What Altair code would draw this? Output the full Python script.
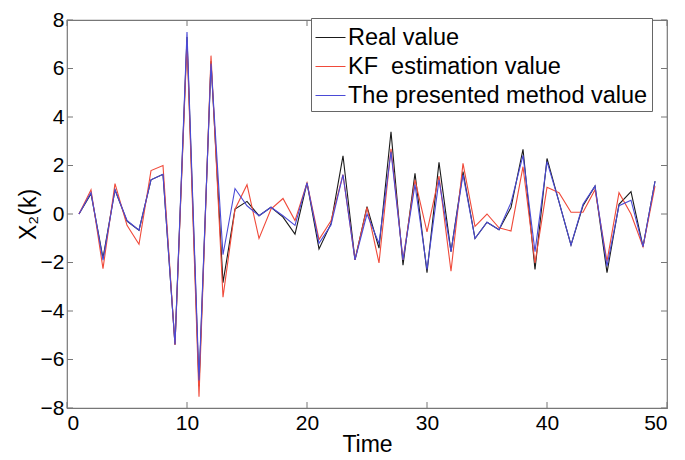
import altair as alt
import pandas as pd

time = list(range(1, 50))
real = [0, 0.84, -1.82, 1.0, -0.3, -0.67, 1.41, 1.64, -5.38, 7.3,
        -7.1, 6.3, -2.83, 0.2, 0.52, -0.07, 0.28, -0.13, -0.83, 1.28,
        -1.44, -0.4, 2.4, -1.89, 0.3, -1.41, 3.39, -2.11, 1.68, -2.42,
        2.13, -1.55, 1.75, -1.01, -0.34, -0.65, 0.27, 2.67, -2.29, 2.29,
        0.5, -1.28, 0.34, 1.15, -2.42, 0.4, 0.92, -1.35, 1.35]
kf = [0, 1.0, -2.25, 1.25, -0.47, -1.25, 1.79, 2.0, -5.4, 7.1,
      -7.54, 6.53, -3.43, 0.2, 1.21, -1.01, 0.2, 0.64, -0.27, 1.28,
      -1.05, -0.28, 1.62, -1.89, 0.27, -2.02, 2.69, -1.89, 1.41, -0.74,
      1.56, -2.36, 2.09, -0.51, 0.0, -0.57, -0.7, 1.95, -2.02, 1.1,
      0.88, 0.07, 0.07, 1.0, -1.95, 0.88, 0.0, -1.35, 1.15]
presented = [0, 0.88, -1.9, 1.0, -0.27, -0.67, 1.41, 1.64, -5.38, 7.5,
             -6.87, 6.2, -1.68, 1.05, 0.34, -0.07, 0.28, -0.07, -0.47, 1.28,
             -1.21, -0.45, 1.62, -1.89, 0.0, -1.21, 2.56, -1.89, 1.21, -2.29,
             1.41, -1.55, 1.62, -1.01, -0.34, -0.65, 0.47, 2.42, -1.55, 2.16,
             0.5, -1.28, 0.4, 1.15, -2.15, 0.34, 0.57, -1.35, 1.35]

series_names = ["Real value", "\u00a0KF\u00a0\u00a0estimation value", "The presented method value"]
series_colors = ["#1a1a1a", "#f04a3a", "#4a4ad6"]
x_ticks = [0, 10, 20, 30, 40, 50]
y_ticks = [-8, -6, -4, -2, 0, 2, 4, 6, 8]

W, H = 600, 388

rows = []
for name, vals, order in zip(series_names, [real, kf, presented], [0, 1, 2]):
    for t, v in zip(time, vals):
        rows.append({"Time": t, "value": v, "series": name, "order": order})
df = pd.DataFrame(rows)

xscale = alt.Scale(domain=[0, 50], nice=False, zero=False)
yscale = alt.Scale(domain=[-8, 8], nice=False, zero=False)

FONT = "Liberation Sans"

lines = alt.Chart(df).mark_line(strokeWidth=1.1).encode(
    x=alt.X("Time:Q", scale=xscale,
            axis=alt.Axis(values=x_ticks, title="Time", tickSize=0, domain=False,
                          grid=False, labelPadding=4, titlePadding=0,
                          labelFont=FONT, labelFontSize=21, labelColor="#000000",
                          titleFont=FONT, titleFontSize=23, titleColor="#000000",
                          titleFontWeight="normal")),
    y=alt.Y("value:Q", scale=yscale,
            axis=alt.Axis(values=y_ticks, title="X\u2082(k)", tickSize=0, domain=False,
                          grid=False, labelPadding=3, titlePadding=0,
                          labelFont=FONT, labelFontSize=21, labelColor="#000000",
                          titleFont=FONT, titleFontSize=23, titleColor="#000000",
                          titleFontWeight="normal")),
    color=alt.Color("series:N",
                    scale=alt.Scale(domain=series_names, range=series_colors),
                    sort=series_names,
                    legend=alt.Legend(title=None, orient="none", legendX=244, legendY=-2,
                                      symbolType="stroke", symbolSize=900,
                                      symbolStrokeWidth=1, labelFontSize=23.5,
                                      labelFont=FONT, labelColor="#000000",
                                      labelLimit=400, rowPadding=2, padding=4,
                                      strokeColor="#666666", fillColor="white",
                                      labelOffset=2)),
    order="order:Q",
    detail="series:N",
)

xt = pd.DataFrame({"t": x_ticks})
yt = pd.DataFrame({"v": y_ticks})
tick_color = "#777777"
bottom = alt.Chart(xt).mark_rule(color=tick_color).encode(
    x=alt.X("t:Q", scale=xscale), y=alt.value(H), y2=alt.value(H - 6))
top = alt.Chart(xt).mark_rule(color=tick_color).encode(
    x=alt.X("t:Q", scale=xscale), y=alt.value(0), y2=alt.value(6))
left = alt.Chart(yt).mark_rule(color=tick_color).encode(
    y=alt.Y("v:Q", scale=yscale), x=alt.value(0), x2=alt.value(6))
right = alt.Chart(yt).mark_rule(color=tick_color).encode(
    y=alt.Y("v:Q", scale=yscale), x=alt.value(W), x2=alt.value(W - 6))

chart = alt.layer(lines, bottom, top, left, right).properties(
    width=W, height=H,
    autosize=alt.AutoSizeParams(type="none"),
    padding={"left": 59, "top": 12, "right": 10, "bottom": 52},
    background="white",
).configure_view(
    stroke="#777777", strokeWidth=1.2
)

chart.save("out.html", embed_options={"renderer": "svg", "actions": False})
